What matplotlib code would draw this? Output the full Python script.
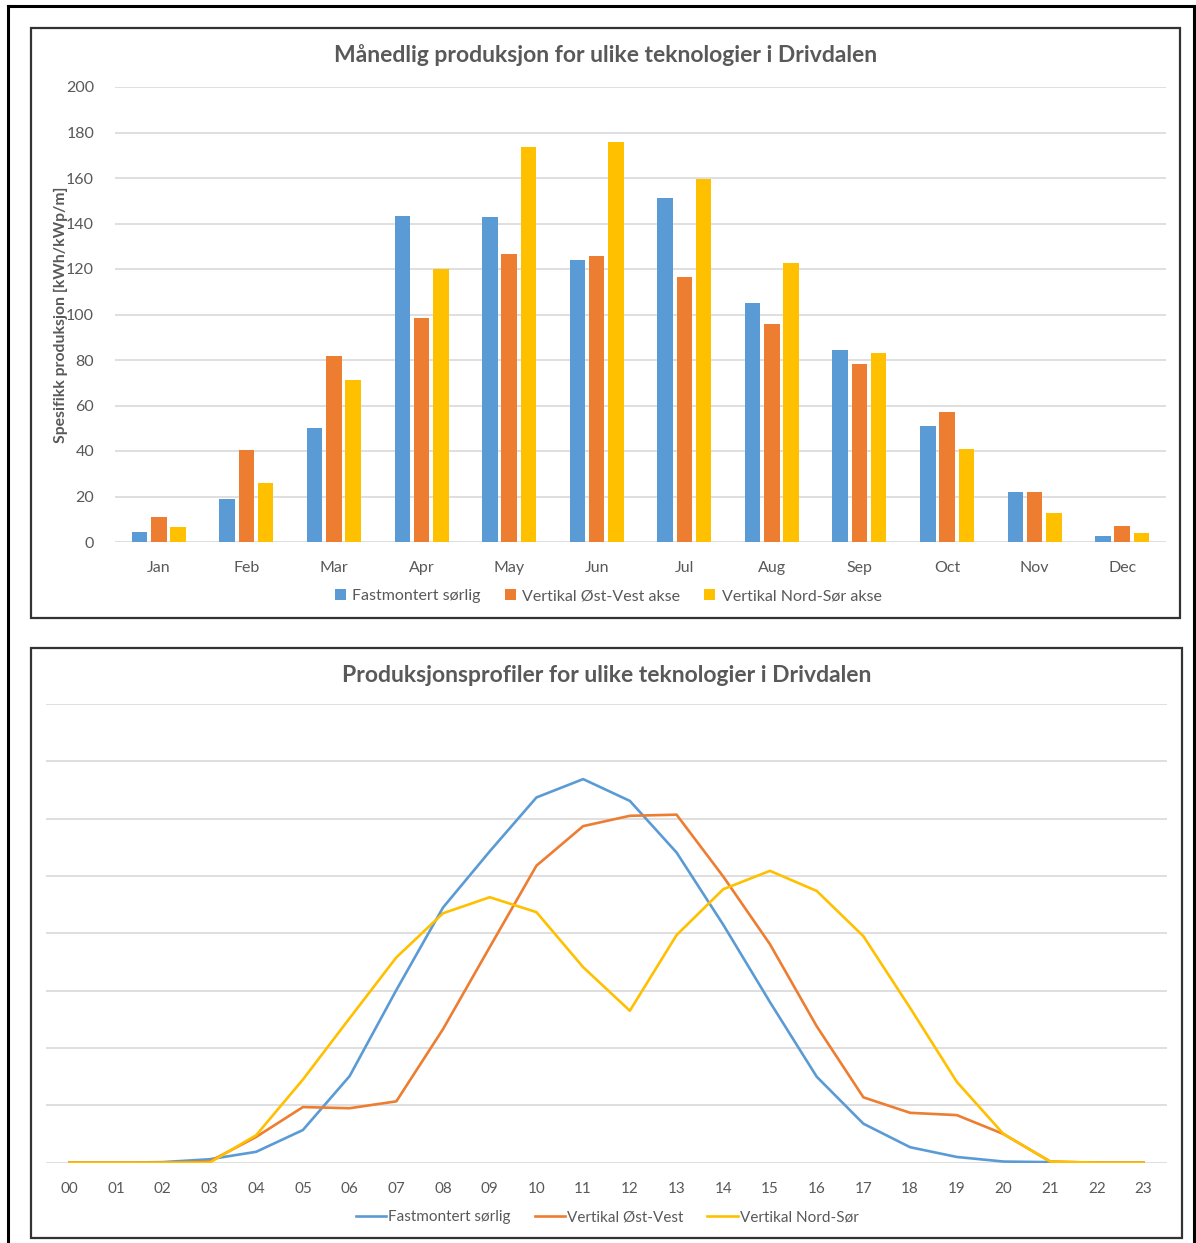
import numpy as np
import matplotlib
matplotlib.use("Agg")
from matplotlib import pyplot as plt
from matplotlib.patches import Rectangle
from matplotlib.lines import Line2D

plt.rcParams['font.family'] = ['Lato', 'DejaVu Sans']

months = ['Jan', 'Feb', 'Mar', 'Apr', 'May', 'Jun',
          'Jul', 'Aug', 'Sep', 'Oct', 'Nov', 'Dec']
fast_month = [4.6, 18.8, 50.3, 143.3, 143.0, 123.8, 151.1, 105.1, 84.4, 50.8, 21.8, 2.5]
ostvest_month = [11.1, 40.4, 81.6, 98.5, 126.4, 125.7, 116.3, 96.0, 78.2, 57.1, 22.0, 7.0]
nordsor_month = [6.7, 26.1, 71.2, 119.9, 173.8, 175.8, 159.7, 122.5, 83.1, 41.0, 12.6, 4.0]

hours = ['%02d' % h for h in range(24)]
fast_hour = [0, 0, 0.01, 0.06, 0.19, 0.57, 1.51, 3.01, 4.45, 5.43, 6.37, 6.69,
             6.31, 5.41, 4.15, 2.80, 1.50, 0.68, 0.27, 0.10, 0.02, 0.01, 0, 0]
ostvest_hour = [0, 0, 0, 0.02, 0.45, 0.97, 0.95, 1.07, 2.33, 3.76, 5.18, 5.87,
                6.05, 6.07, 4.99, 3.81, 2.38, 1.14, 0.87, 0.83, 0.50, 0.02, 0, 0]
nordsor_hour = [0, 0, 0, 0, 0.48, 1.45, 2.52, 3.58, 4.35, 4.63, 4.37, 3.41,
                2.65, 3.97, 4.77, 5.09, 4.74, 3.95, 2.70, 1.41, 0.50, 0.02, 0, 0]

labels_month = ['Fastmontert sørlig', 'Vertikal Øst-Vest akse', 'Vertikal Nord-Sør akse']
labels_hour = ['Fastmontert sørlig', 'Vertikal Øst-Vest', 'Vertikal Nord-Sør']
colors = ['#5B9BD5', '#ED7D31', '#FFC000']
text_color = '#595959'
grid_color = '#D9D9D9'

W, H = 1196, 1243
fig = plt.figure(figsize=(W / 100, H / 100), dpi=100)


def fbox(x0, y0, x1, y1):
    # pixel box (top-left origin) -> figure fraction [left, bottom, width, height]
    return [x0 / W, 1 - y1 / H, (x1 - x0) / W, (y1 - y0) / H]


# outer frame and the two chart panels
fig.add_artist(Line2D([8 / W, 8 / W], [0, 1 - 6 / H], color='black', lw=2.2))
fig.add_artist(Line2D([8 / W, 1194 / W], [1 - 6 / H, 1 - 6 / H], color='black', lw=2.2))
fig.add_artist(Line2D([1194 / W, 1194 / W], [0, 1 - 6 / H], color='black', lw=2.2))
for box in [(31, 28, 1180, 618), (31, 648, 1182, 1238)]:
    l, b, w, h = fbox(*box)
    fig.add_artist(Rectangle((l, b), w, h, transform=fig.transFigure,
                             fill=False, edgecolor='#333333', lw=1.6))

# monthly bars
ax1 = fig.add_axes(fbox(115, 87, 1166, 542))
x = np.arange(len(months))
bw = 0.177
step = 0.22
for i, (vals, lab) in enumerate(zip([fast_month, ostvest_month, nordsor_month], labels_month)):
    ax1.bar(x + (i - 1) * step, vals, width=bw, color=colors[i], label=lab, zorder=3)
ax1.set_xlim(-0.5, 11.5)
ax1.set_ylim(0, 200)
ax1.set_yticks(np.arange(0, 201, 20))
ax1.set_xticks(x)
ax1.set_xticklabels(months)
ax1.yaxis.grid(True, color=grid_color, lw=1.2, zorder=0)
ax1.set_axisbelow(True)
for s in ax1.spines.values():
    s.set_visible(False)
ax1.tick_params(axis='both', length=0, colors=text_color, labelsize=11.5)
ax1.tick_params(axis='x', pad=14)
ax1.tick_params(axis='y', pad=15)
ax1.set_ylabel('Spesifikk produksjon [kWh/kWp/m]', color=text_color,
               fontsize=11.3, fontweight='bold')
ax1.yaxis.set_label_coords(-0.045, 0.5)
fig.text(606 / W, 1 - 55 / H, 'Månedlig produksjon for ulike teknologier i Drivdalen',
         ha='center', va='center', fontsize=16.5, fontweight='bold', color=text_color)
fig.legend(*ax1.get_legend_handles_labels(), loc='center', ncol=3, frameon=False,
           bbox_to_anchor=(608 / W, 1 - 596 / H), bbox_transform=fig.transFigure,
           fontsize=11.5, labelcolor=text_color, handlelength=0.7, handleheight=0.7,
           handletextpad=0.4, columnspacing=1.5)

# hourly profiles
ax2 = fig.add_axes(fbox(46, 704, 1167, 1162.7))
hx = np.arange(24)
for vals, lab, c in zip([fast_hour, ostvest_hour, nordsor_hour], labels_hour, colors):
    ax2.plot(hx, vals, color=c, lw=1.9, label=lab, zorder=3)
ax2.set_xlim(-0.5, 23.5)
ax2.set_ylim(0, 8)
ax2.set_yticks(np.arange(0, 9, 1))
ax2.set_yticklabels([])
ax2.set_xticks(hx)
ax2.set_xticklabels(hours)
ax2.yaxis.grid(True, color=grid_color, lw=1.2, zorder=0)
ax2.set_axisbelow(True)
for s in ax2.spines.values():
    s.set_visible(False)
ax2.tick_params(axis='both', length=0, colors=text_color, labelsize=11)
ax2.tick_params(axis='x', pad=14)
fig.text(607 / W, 1 - 675 / H, 'Produksjonsprofiler for ulike teknologier i Drivdalen',
         ha='center', va='center', fontsize=16.5, fontweight='bold', color=text_color)
fig.legend(*ax2.get_legend_handles_labels(), loc='center', ncol=3, frameon=False,
           bbox_to_anchor=(607 / W, 1 - 1217 / H), bbox_transform=fig.transFigure,
           fontsize=11, labelcolor=text_color, handlelength=2.0,
           handletextpad=0.1, columnspacing=1.6)

fig.savefig('out.png', dpi=100, facecolor='white')
